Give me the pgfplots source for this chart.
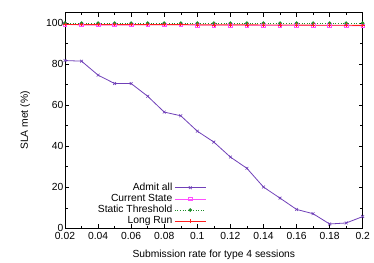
\documentclass[border=0pt]{standalone}
\usepackage{pgfplots}
\pgfplotsset{compat=1.18}
\usepackage{fontspec}
\setmainfont{Liberation Sans}
\definecolor{cAdmit}{RGB}{112,64,184}
\definecolor{cCur}{RGB}{255,80,255}
\definecolor{cStat}{RGB}{30,140,40}
\definecolor{cLong}{RGB}{255,30,30}
\newcommand{\ff}{\fontsize{10.3}{11.5}\selectfont}
\begin{document}
\ff
\begin{tikzpicture}
\begin{axis}[
  scale only axis,
  width=297.7pt, height=215.6pt,
  xmin=0.02, xmax=0.2, ymin=0, ymax=105,
  xtick={0.02,0.04,...,0.201},
  minor x tick num=1,
  ytick={0,20,40,60,80,100},
  minor y tick num=1,
  tick align=inside,
  major tick length=4pt, minor tick length=2.5pt,
  tick style={black, line width=0.5pt},
  axis line style={line width=0.6pt},
  /pgf/number format/assume math mode=true,
  xticklabel style={/pgf/number format/fixed, /pgf/number format/precision=2, font=\ff},
  yticklabel style={font=\ff, xshift=2pt},
  xlabel={Submission rate for type 4 sessions},
  ylabel={SLA met (\%)},
  label style={font=\ff},
  xlabel style={at={(axis description cs:0.5,-0.124)}, anchor=center},
  ylabel style={at={(axis description cs:-0.134,0.5)}, anchor=center},
  legend plot pos=right,
  legend cell align=right,
  legend style={at={(0.475,0.003)}, anchor=south east, draw=none, fill=none,
    font=\ff, row sep=-1.7pt, inner sep=0pt},
  legend image code/.code={\draw[#1] (0pt,0pt) -- (31pt,0pt); \draw[#1, only marks] plot coordinates {(15.5pt,0pt)};},
]
\addplot[color=cAdmit, line width=0.8pt, mark=x, mark size=2pt, mark options={line width=0.6pt}] coordinates {
(0.02,81.7)(0.03,81.4)(0.04,74.6)(0.05,70.5)(0.06,70.5)(0.07,64.3)(0.08,56.6)(0.09,54.8)(0.10,47.3)(0.11,42.0)(0.12,34.7)(0.13,29.2)(0.14,20.1)(0.15,14.7)(0.16,9.2)(0.17,7.1)(0.18,2.1)(0.19,2.6)(0.20,5.7)};
\addlegendentry{Admit all}
\addplot[color=cCur, line width=0.5pt, mark=square, mark size=1.8pt, mark options={line width=0.7pt}] coordinates {
(0.02,99.2)(0.03,99.0)(0.04,99.0)(0.05,99.0)(0.06,99.0)(0.07,99.1)(0.08,99.0)(0.09,99.1)(0.10,98.9)(0.11,98.9)(0.12,98.9)(0.13,98.9)(0.14,98.8)(0.15,98.8)(0.16,98.7)(0.17,98.7)(0.18,98.8)(0.19,98.6)(0.20,98.6)};
\addlegendentry{Current State}
\addplot[color=cStat, line width=0.6pt, dotted, mark=*, mark size=1.5pt, mark options={solid}] coordinates {
(0.02,99.9)(0.03,99.9)(0.04,99.9)(0.05,99.9)(0.06,99.9)(0.07,99.9)(0.08,99.9)(0.09,99.9)(0.10,99.9)(0.11,99.9)(0.12,99.9)(0.13,99.9)(0.14,99.9)(0.15,99.9)(0.16,99.9)(0.17,99.9)(0.18,99.9)(0.19,99.9)(0.20,99.9)};
\addlegendentry{Static Threshold}
\addplot[color=cLong, line width=0.9pt, mark=+, mark size=1.8pt, mark options={line width=0.6pt}] coordinates {
(0.02,99.3)(0.03,99.2)(0.04,99.2)(0.05,99.2)(0.06,99.2)(0.07,99.2)(0.08,99.2)(0.09,99.2)(0.10,99.1)(0.11,99.1)(0.12,99.1)(0.13,99.1)(0.14,99.0)(0.15,99.0)(0.16,99.0)(0.17,98.9)(0.18,98.9)(0.19,98.9)(0.20,98.8)};
\addlegendentry{Long Run}
\end{axis}
\pgfresetboundingbox
\path (current axis.south west) ++(-65pt,-33.7pt) rectangle ++(374pt,262pt);
\end{tikzpicture}
\end{document}
